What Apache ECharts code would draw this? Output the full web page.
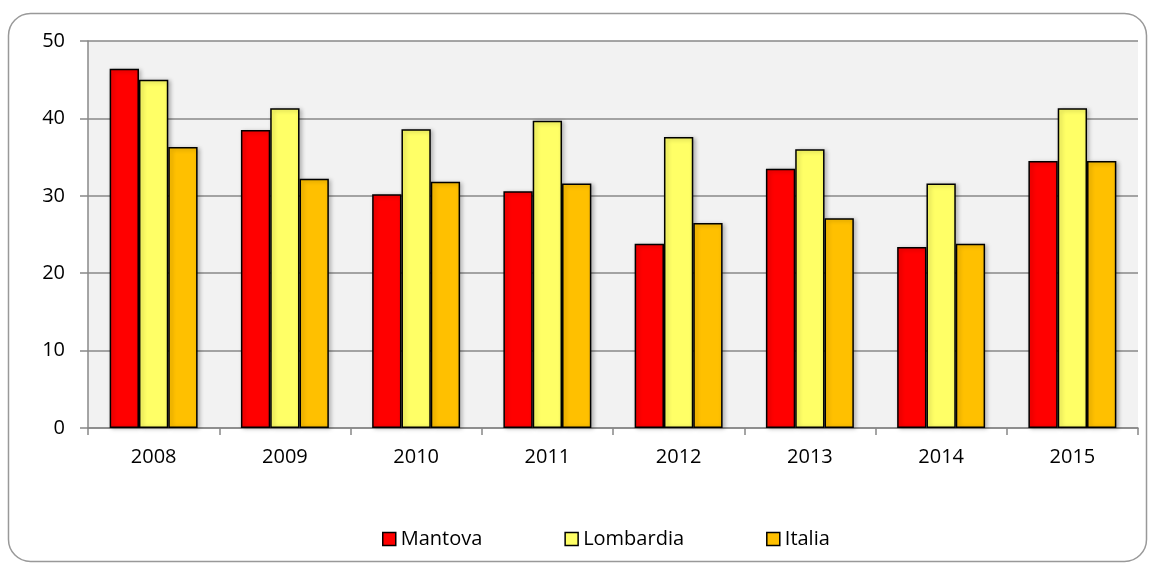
<!DOCTYPE html>
<html><head><meta charset="utf-8">
<script src="https://cdn.jsdelivr.net/npm/echarts@6/dist/echarts.min.js"></script>
<style>html,body{margin:0;padding:0;background:#fff}#c{width:1151px;height:564px}</style>
</head><body><div id="c"></div>
<script>
const years = ['2008','2009','2010','2011','2012','2013','2014','2015'];
const mantova = [46.4, 38.5, 30.2, 30.6, 23.8, 33.5, 23.4, 34.5];
const lombardia = [45.0, 41.3, 38.6, 39.7, 37.6, 36.0, 31.6, 41.3];
const italia = [36.3, 32.2, 31.8, 31.6, 26.5, 27.1, 23.8, 34.5];
const yTicks = [0, 10, 20, 30, 40, 50];

const font = '"Open Sans", "Liberation Sans", sans-serif';
const chart = echarts.init(document.getElementById('c'), null, {renderer:'canvas'});
function s(name, data, color){
  return {name, type:'bar', data, barGap:'0%', barCategoryGap:'33%',
    itemStyle:{color, borderColor:'#000', borderWidth:1.5,
      shadowColor:'rgba(0,0,0,0.25)', shadowBlur:4, shadowOffsetX:2, shadowOffsetY:1},
    emphasis:{disabled:true}};
}
chart.setOption({
  animation:false,
  graphic:[{type:'rect', shape:{x:8.5, y:13.5, width:1138, height:548, r:22},
    style:{fill:'none', stroke:'#999', lineWidth:1.5}, z:-10}],
  grid:{left:88, right:13, top:41, bottom:136, show:true, backgroundColor:'#F2F2F2', borderWidth:0},
  legend:{left:377, top:524, itemGap:82, itemWidth:13, itemHeight:13, icon:'rect',
    textStyle:{fontFamily:font, fontSize:20, color:'#000'},
    itemStyle:{borderColor:'#000', borderWidth:1.5, shadowBlur:0, shadowOffsetX:0, shadowOffsetY:0}},
  xAxis:{type:'category', data:years,
    axisLine:{lineStyle:{color:'#888', width:1.5}},
    axisTick:{show:true, length:7, lineStyle:{color:'#888', width:1.5}},
    axisLabel:{fontFamily:font, fontSize:20, color:'#000', margin:19}},
  yAxis:{type:'value', min:yTicks[0], max:yTicks[yTicks.length-1], interval:10,
    axisLine:{show:true, lineStyle:{color:'#888', width:1.5}},
    axisTick:{show:true, length:8, lineStyle:{color:'#888', width:1.5}},
    splitLine:{lineStyle:{color:'#888', width:1.5}},
    axisLabel:{fontFamily:font, fontSize:20, color:'#000', margin:23}},
  series:[s('Mantova', mantova, '#FF0000'), s('Lombardia', lombardia, '#FFFF66'), s('Italia', italia, '#FFC000')]
});
</script></body></html>
